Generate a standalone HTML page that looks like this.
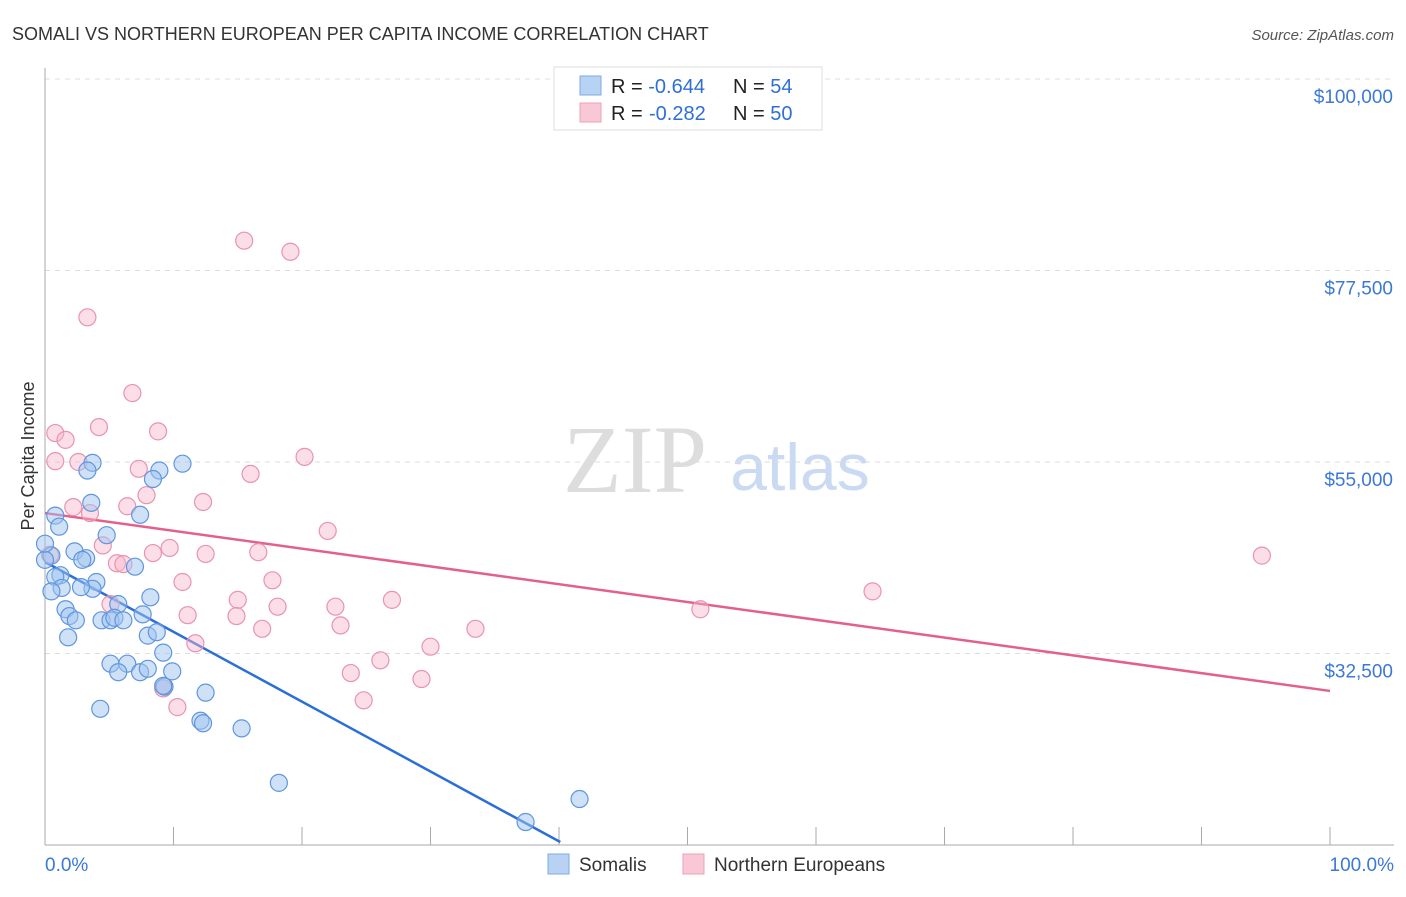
<!DOCTYPE html>
<html><head><meta charset="utf-8"><style>
body{margin:0;background:#fff;font-family:"Liberation Sans",sans-serif;}
svg text{font-family:"Liberation Sans",sans-serif;}
</style></head><body>
<svg id="chart" width="1406" height="892" xmlns="http://www.w3.org/2000/svg">
<text x="12" y="40" font-size="18" fill="#333">SOMALI VS NORTHERN EUROPEAN PER CAPITA INCOME CORRELATION CHART</text>
<text x="1394" y="40" font-size="15" fill="#555" text-anchor="end" font-style="italic">Source: ZipAtlas.com</text>
<text x="635" y="492" font-size="96" fill="#ddd" text-anchor="middle" font-family="Liberation Serif" style="font-family:'Liberation Serif',serif">ZIP</text>
<text x="800" y="490" font-size="66" fill="#c9daf2" text-anchor="middle">atlas</text>
<g id="grid"></g><g id="axes"></g>
<text transform="translate(34,456) rotate(-90)" font-size="18" fill="#333" text-anchor="middle">Per Capita Income</text>
<g id="lines"></g><g id="points"></g>
<g>
<rect x="554" y="67" width="268" height="63" fill="#fff" stroke="#ddd"/>
<rect x="580" y="76" width="21" height="19" fill="#b8d2f4" stroke="#7fa9e6"/>
<rect x="580" y="103" width="21" height="19" fill="#f9c8d6" stroke="#eea0b8"/>
<text x="611" y="93" font-size="20" fill="#222">R = <tspan fill="#2f6fd6">-0.644</tspan><tspan x="733">N = </tspan><tspan fill="#2f6fd6">54</tspan></text>
<text x="611" y="120" font-size="20" fill="#222">R = <tspan fill="#2f6fd6" x="649">-0.282</tspan><tspan x="733">N = </tspan><tspan fill="#2f6fd6">50</tspan></text>
</g>
<g>
<rect x="548" y="854" width="21" height="20" fill="#b8d2f4" stroke="#7fa9e6"/>
<text x="579" y="871" font-size="19" fill="#333">Somalis</text>
<rect x="683" y="854" width="21" height="20" fill="#f9c8d6" stroke="#eea0b8"/>
<text x="714" y="871" font-size="19" fill="#333">Northern Europeans</text>
</g>
</svg>
<script>
const yTicks=[100000,77500,55000,32500];
const yTickLabels=["$100,000","$77,500","$55,000","$32,500"];
const xTickLabels=["0.0%","100.0%"];
const somaliX=[3.7,3.3,8.9,10.7,8.4,3.6,7.4,0.8,1.1,4.8,0.5,2.3,3.2,2.9,0.0,7.0,1.2,0.8,1.3,4.0,3.7,2.8,0.5,5.7,8.2,1.6,1.9,2.4,4.4,5.1,5.4,6.1,7.6,8.0,8.7,1.8,9.2,5.1,6.4,5.7,7.4,8.0,9.9,9.3,12.5,4.3,12.1,12.3,15.3,18.2,41.6,37.4,0.0,9.2];
const somaliY=[54.9,54.0,54.0,54.8,53.0,50.2,48.8,48.7,47.4,46.4,44.0,44.5,43.7,43.5,43.5,42.7,41.7,41.5,40.2,40.9,40.1,40.3,39.8,38.3,39.1,37.7,36.9,36.4,36.4,36.4,36.7,36.4,37.1,34.6,35.0,34.4,32.6,31.3,31.3,30.3,30.3,30.7,30.4,28.6,27.9,26.0,24.6,24.3,23.7,17.3,15.4,12.7,45.4,28.7];
const neX=[0.8,1.6,3.3,15.5,19.1,6.8,4.2,8.8,0.8,2.6,7.3,16.0,20.2,7.9,2.2,6.4,3.5,12.3,22.0,4.5,8.4,9.7,12.5,16.6,0.4,5.6,6.1,10.7,17.7,15.0,5.1,11.1,14.9,18.1,22.6,27.0,23.0,16.9,11.7,30.0,33.5,26.1,23.8,29.3,9.2,24.8,10.3,51.0,64.4,94.7];
const neY=[58.4,57.6,72.0,81.0,79.7,63.1,59.1,58.6,55.1,55.0,54.2,53.6,55.6,51.1,49.7,49.8,49.0,50.3,46.9,45.2,44.3,44.9,44.2,44.4,44.1,43.1,43.0,40.9,41.1,38.8,38.3,37.0,36.9,38.0,38.0,38.8,35.8,35.4,33.7,33.3,35.4,31.7,30.2,29.5,28.4,27.0,26.2,37.7,39.8,44.0];
const somaliTrendX=[0,40.1];
const somaliTrendY=[43.25,10.35];
const neTrendX=[0,100];
const neTrendY=[49.0,28.1];
const NS="http://www.w3.org/2000/svg";
function xs(p){return 45+p*12.85;}
function ys(k){return 79+(100-k)*8.511;}
function mk(t,a,parent){const e=document.createElementNS(NS,t);for(const k in a)e.setAttribute(k,a[k]);parent.appendChild(e);return e;}
const grid=document.getElementById('grid'),axes=document.getElementById('axes');
yTicks.forEach((v,i)=>{
 const y=ys(v/1000);
 const l=mk('line',{x1:45,x2:1394,y1:y,y2:y,stroke:'#ddd','stroke-dasharray':'5,5'},grid);
 
 
 const t=mk('text',{x:1393,y:y+24,'font-size':19,fill:'#3b78d8','text-anchor':'end'},axes);
 t.textContent=yTickLabels[i];
 
 
});
const ax=mk('line',{x1:45,x2:1394,y1:845,y2:845,stroke:'#aaa'},axes);


const ay=mk('line',{x1:45,x2:45,y1:68,y2:845,stroke:'#aaa'},axes);


for(let i=1;i<=10;i++){
 const tk=mk('line',{x1:xs(i*10),x2:xs(i*10),y1:827,y2:845,stroke:'#aaa'},axes);
 
 
}
[[0,'start',45],[1,'end',1394]].forEach(([i,a,x])=>{
 const t=mk('text',{x:x,y:871,'font-size':19,fill:'#3b78d8','text-anchor':a},axes);
 t.textContent=xTickLabels[i];
 
 
});
const pts=document.getElementById('points');
function drawPts(X,Y,fill,stroke,name){
 X.forEach((p,i)=>{
  const c=mk('circle',{cx:xs(p),cy:ys(Y[i]),r:8.5,fill:fill,stroke:stroke,'stroke-width':1.2},pts);
  
  
 });
}
drawPts(neX,neY,'rgba(246,182,201,0.45)','#e993b0','northern-european-point');
drawPts(somaliX,somaliY,'rgba(160,196,240,0.5)','#5f96df','somali-point');
const lines=document.getElementById('lines');
const tn=mk('line',{x1:xs(neTrendX[0]),y1:ys(neTrendY[0]),x2:xs(neTrendX[1]),y2:ys(neTrendY[1]),stroke:'#e4608c','stroke-width':2.5},lines);


const ts=mk('line',{x1:xs(somaliTrendX[0]),y1:ys(somaliTrendY[0]),x2:xs(somaliTrendX[1]),y2:ys(somaliTrendY[1]),stroke:'#2a6fd8','stroke-width':2.5},lines);


</script>
</body></html>
